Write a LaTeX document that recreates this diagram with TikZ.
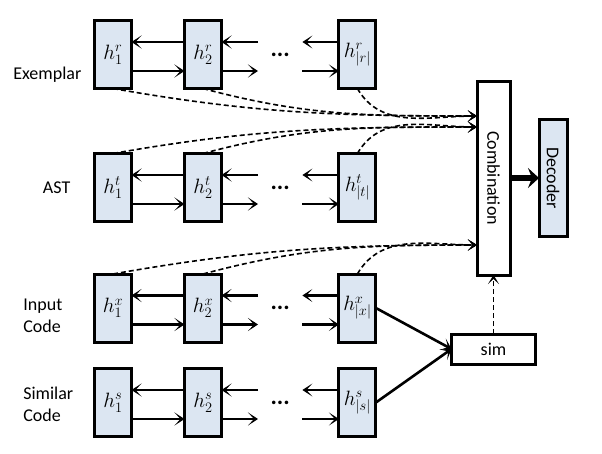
\documentclass[tikz,border=0pt]{standalone}
\usepackage{fontspec}
\setmainfont{Carlito}
\usepackage{graphicx}
\usetikzlibrary{arrows.meta, positioning}
\definecolor{CellBlue}{RGB}{220, 230, 242}
\tikzset{
  hcell/.style={rectangle, draw=black, line width=3pt, fill=CellBlue,
                minimum width=37pt, minimum height=68pt,
                inner sep=0pt, outer sep=0pt, font=\fontsize{21}{24}\selectfont},
  wbox/.style={rectangle, draw=black, line width=3pt, fill=#1,
               inner sep=0pt, outer sep=0pt},
  skipnode/.style={minimum width=44pt, inner sep=0pt,
                   font=\fontsize{24}{26}\selectfont\bfseries},
  lbl/.style={inner sep=0pt, align=left},
  arr/.style={-{Stealth[length=10pt, width=13pt, inset=6pt]}, line width=2.6pt},
  darr/.style={-{Stealth[length=9pt, width=11pt, inset=5pt]}, line width=1.6pt,
               dash pattern=on 5pt off 3pt},
  bigarr/.style={-{Stealth[length=11pt, width=20pt, inset=4pt]}, line width=6.5pt},
}

\begin{document}
\begin{tikzpicture}[x=1pt, y=1pt, font=\fontsize{18}{22}\selectfont]
  \useasboundingbox (0,0) rectangle (602,-453);

  %% EXEMPLAR ROW
  \node[hcell] (r1) at (113,-54.5) {$h^r_1$};
  \node[hcell, right=53pt of r1] (r2) {$h^r_2$};
  \node[skipnode, right=36.5pt of r2] (rd) {...};
  \node[hcell, right=36.5pt of rd] (r3) {$h^r_{|r|}$};

  %% AST ROW
  \node[hcell, below=65pt of r1] (t1) {$h^t_1$};
  \node[hcell, right=53pt of t1] (t2) {$h^t_2$};
  \node[skipnode, right=36.5pt of t2] (td) {...};
  \node[hcell, right=36.5pt of td] (t3) {$h^t_{|t|}$};

  %% INPUT CODE ROW
  \node[hcell, below=52.5pt of t1] (x1) {$h^x_1$};
  \node[hcell, right=53pt of x1] (x2) {$h^x_2$};
  \node[skipnode, right=36.5pt of x2] (xd) {...};
  \node[hcell, right=36.5pt of xd] (x3) {$h^x_{|x|}$};

  %% SIMILAR CODE ROW
  \node[hcell, below=26.5pt of x1] (s1) {$h^s_1$};
  \node[hcell, right=53pt of s1] (s2) {$h^s_2$};
  \node[skipnode, right=36.5pt of s2] (sd) {...};
  \node[hcell, right=36.5pt of sd] (s3) {$h^s_{|s|}$};

  %% Row labels
  \node[lbl, left=13pt of r1, yshift=-20pt] (lr) {Exemplar};
  \node[lbl, left=24pt of t1] (lt) {AST};
  \node[lbl, left=32pt of x1, yshift=-8pt] (lx) {Input\\Code};
  \node[lbl, left=21pt of s1, yshift=-2pt] (ls) {Similar\\Code};

  %% Bi-directional links
  \draw[arr] ([yshift=12.5pt]r2.west) -- ([yshift=12.5pt]r1.east);
  \draw[arr] ([yshift=-16.5pt]r1.east) -- ([yshift=-16.5pt]r2.west);
  \draw[arr] ([yshift=12.5pt]rd.west) -- ([yshift=12.5pt]r2.east);
  \draw[arr] ([yshift=-16.5pt]r2.east) -- ([yshift=-16.5pt]rd.west);
  \draw[arr] ([yshift=12.5pt]r3.west) -- ([yshift=12.5pt]rd.east);
  \draw[arr] ([yshift=-16.5pt]rd.east) -- ([yshift=-16.5pt]r3.west);

  \draw[arr] ([yshift=12.5pt]t2.west) -- ([yshift=12.5pt]t1.east);
  \draw[arr] ([yshift=-16.5pt]t1.east) -- ([yshift=-16.5pt]t2.west);
  \draw[arr] ([yshift=12.5pt]td.west) -- ([yshift=12.5pt]t2.east);
  \draw[arr] ([yshift=-16.5pt]t2.east) -- ([yshift=-16.5pt]td.west);
  \draw[arr] ([yshift=12.5pt]t3.west) -- ([yshift=12.5pt]td.east);
  \draw[arr] ([yshift=-16.5pt]td.east) -- ([yshift=-16.5pt]t3.west);

  \draw[arr] ([yshift=12.5pt]x2.west) -- ([yshift=12.5pt]x1.east);
  \draw[arr] ([yshift=-16.5pt]x1.east) -- ([yshift=-16.5pt]x2.west);
  \draw[arr] ([yshift=12.5pt]xd.west) -- ([yshift=12.5pt]x2.east);
  \draw[arr] ([yshift=-16.5pt]x2.east) -- ([yshift=-16.5pt]xd.west);
  \draw[arr] ([yshift=12.5pt]x3.west) -- ([yshift=12.5pt]xd.east);
  \draw[arr] ([yshift=-16.5pt]xd.east) -- ([yshift=-16.5pt]x3.west);

  \draw[arr] ([yshift=12.5pt]s2.west) -- ([yshift=12.5pt]s1.east);
  \draw[arr] ([yshift=-16.5pt]s1.east) -- ([yshift=-16.5pt]s2.west);
  \draw[arr] ([yshift=12.5pt]sd.west) -- ([yshift=12.5pt]s2.east);
  \draw[arr] ([yshift=-16.5pt]s2.east) -- ([yshift=-16.5pt]sd.west);
  \draw[arr] ([yshift=12.5pt]s3.west) -- ([yshift=12.5pt]sd.east);
  \draw[arr] ([yshift=-16.5pt]sd.east) -- ([yshift=-16.5pt]s3.west);

  %% COMBINATION / DECODER / SIM
  \node[wbox=white, minimum width=33pt, minimum height=194pt] (comb) at (493.5,-178)
       {\rotatebox{-90}{Combination}};
  \node[wbox=CellBlue, minimum width=28pt, minimum height=117pt, right=29pt of comb] (dec)
       {\rotatebox{-90}{Decoder}};
  \node[wbox=white, minimum width=84pt, minimum height=30pt, below=59pt of comb] (sim) {sim};

  \draw[bigarr] (comb.east) -- (dec.west);
  \draw[arr] (x3.east) -- (sim.west);
  \draw[arr] (s3.east) -- (sim.west);
  \draw[darr] (sim.north) -- (comb.south);

  %% Attention links into the combination
  \draw[darr] (r1.south) to[out=-10, in=180] ([yshift=62pt]comb.west);
  \draw[darr] (r2.south) to[out=-15, in=180] ([yshift=62pt]comb.west);
  \draw[darr] (r3.south) to[out=-60, in=180] ([yshift=62pt]comb.west);

  \draw[darr] (t1.north) to[out=10, in=180] ([yshift=51pt]comb.west);
  \draw[darr] (t2.north) to[out=15, in=180] ([yshift=51pt]comb.west);
  \draw[darr] (t3.north) to[out=60, in=180] ([yshift=51pt]comb.west);

  \draw[darr] (x1.north) to[out=10, in=180] ([yshift=-67pt]comb.west);
  \draw[darr] (x2.north) to[out=15, in=180] ([yshift=-67pt]comb.west);
  \draw[darr] (x3.north) to[out=60, in=180] ([yshift=-67pt]comb.west);

\end{tikzpicture}
\end{document}
